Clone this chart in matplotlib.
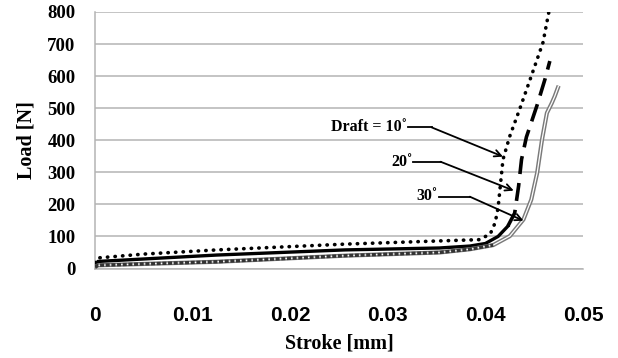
import numpy as np
import matplotlib.pyplot as plt

# ================================= Dados =================================

# Draft = 10° (pontilhado)
x_10 = [0, 0.0003, 0.005, 0.0125, 0.0256, 0.0353, 0.0394, 0.0405, 0.0410, 0.0413, 0.0418,
        0.0425, 0.0435, 0.0447, 0.0459, 0.0465]
y_10 = [18, 33, 45, 58, 76, 86, 90, 108, 143, 190, 340, 413, 496, 600, 705, 800]

# Draft = 20° (contínuo no início, tracejado na subida)
x_20 = [0, 0.0003, 0.0125, 0.0256, 0.0353, 0.0384, 0.0400, 0.0413, 0.0423, 0.0430, 0.0434,
        0.0437, 0.0442, 0.0453, 0.0461, 0.0466]
y_20 = [8, 22, 42, 58, 64, 70, 78, 100, 132, 173, 257, 340, 410, 510, 590, 647]
n_flat_20 = 9  # pontos desenhados com linha contínua

# Draft = 30° (linha dupla cinza)
x_30 = [0, 0.0003, 0.0125, 0.0256, 0.0353, 0.0384, 0.0408, 0.0425, 0.0439, 0.0447, 0.0453,
        0.0458, 0.0463, 0.0468, 0.0471, 0.0475]
y_30 = [4, 10, 21, 40, 50, 60, 73, 101, 153, 215, 298, 402, 485, 516, 537, 570]
n_flat_30 = 7

# Rótulos das setas: texto, ponta do texto (x, y), fim da linha horizontal, ponta da seta
rotulos = ['Draft = 10˚', '20˚', '30˚']
texto_xy = [(0.0320, 440), (0.0325, 333), (0.0351, 226)]
linha_fim = [(0.0345, 440), (0.0354, 333), (0.0384, 224)]
seta_xy = [(0.0418, 349), (0.0429, 243), (0.0439, 149)]

# ================================= Gráfico =================================

serif = ['Liberation Serif', 'DejaVu Serif']

fig = plt.figure(figsize=(6.18, 3.58), dpi=100)
ax = fig.add_axes([0.1537, 0.25, 0.7897, 0.7165])

# 10°
ax.plot(x_10, y_10, color='black', linestyle=(0, (0.1, 2.0)), linewidth=2.6,
        dash_capstyle='round', zorder=3)

# 20°
ax.plot(x_20[:n_flat_20], y_20[:n_flat_20], color='black', linewidth=2.4, zorder=3)
ax.plot(x_20[n_flat_20 - 1:], y_20[n_flat_20 - 1:], color='black', linewidth=2.6,
        linestyle=(0, (5, 2.5)), zorder=3)

# 30°
ax.plot(x_30, y_30, color='#7a7a7a', linewidth=3.0, zorder=3, solid_capstyle='butt')
ax.plot(x_30, y_30, color='white', linewidth=0.9, zorder=4, solid_capstyle='butt')
ax.plot(x_30[:n_flat_30], y_30[:n_flat_30], color='#333333', linewidth=2.4,
        linestyle=(0, (1.2, 0.5)), zorder=4)

# Setas
for txt, (tx, ty), (lx, ly), (sx, sy) in zip(rotulos, texto_xy, linha_fim, seta_xy):
    ax.text(tx, ty, txt, ha='right', va='center', fontsize=11.5, fontweight='bold',
            family=serif)
    ax.plot([tx + 0.0001, lx], [ly, ly], color='black', linewidth=1.3, zorder=5)
    ax.annotate('', xy=(sx, sy), xytext=(lx, ly),
                arrowprops=dict(arrowstyle='->', color='black', lw=1.3,
                                mutation_scale=12, shrinkA=0, shrinkB=0), zorder=5)

ax.set_xlim(0, 0.05)
ax.set_ylim(0, 800)
ax.set_xticks([0, 0.01, 0.02, 0.03, 0.04, 0.05])
ax.set_xticklabels(['0', '0.01', '0.02', '0.03', '0.04', '0.05'])
ax.set_yticks(np.arange(0, 801, 100))

ax.grid(axis='y', color='#b4b4b4', linewidth=1.1)
ax.set_axisbelow(True)
for s in ['top', 'right']:
    ax.spines[s].set_visible(False)
ax.spines['left'].set_color('#b4b4b4')
ax.spines['bottom'].set_color('#b4b4b4')
ax.spines['left'].set_linewidth(1.1)
ax.spines['bottom'].set_linewidth(1.1)

ax.tick_params(axis='x', length=0, pad=27, labelsize=15)
ax.tick_params(axis='y', length=0, pad=14, labelsize=13.5)
for lb in ax.get_xticklabels():
    lb.set_fontweight('bold')
    lb.set_family(['Liberation Sans', 'DejaVu Sans'])
for lb in ax.get_yticklabels():
    lb.set_fontweight('bold')
    lb.set_family(serif)

ax.set_xlabel('Stroke [mm]', fontsize=14.5, fontweight='bold', family=serif, labelpad=6)
ax.set_ylabel('Load [N]', fontsize=14.5, fontweight='bold', family=serif, labelpad=8)

plt.savefig('out.png', dpi=100)
